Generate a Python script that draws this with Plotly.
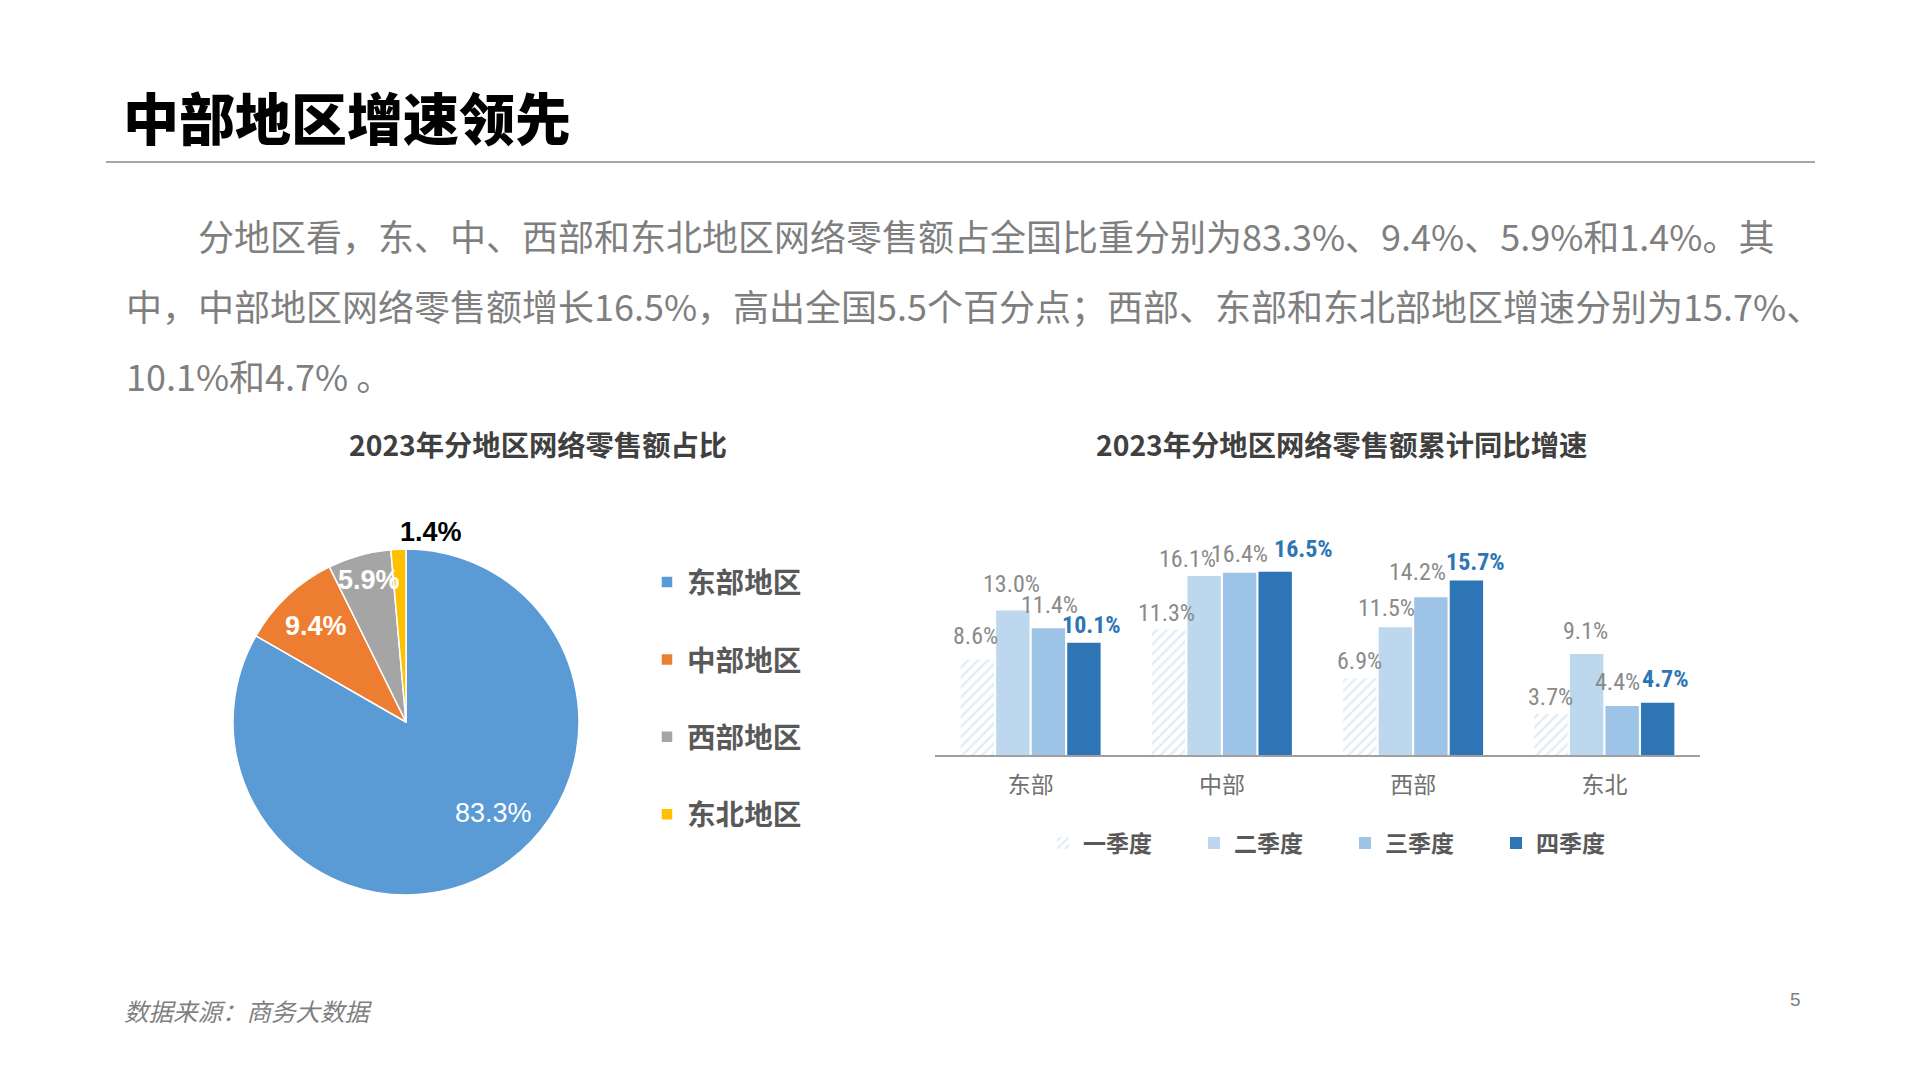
import math
import plotly.graph_objects as go

W, H = 1921, 1080
CJK = "Noto Sans CJK SC"
NARROW = "Liberation Sans Narrow, Roboto Condensed, DejaVu Sans Condensed, Liberation Sans"

# ---- data ----
regions = ["东部地区", "中部地区", "西部地区", "东北地区"]
share = [83.3, 9.4, 5.9, 1.4]

areas = ["东部", "中部", "西部", "东北"]
quarters = ["一季度", "二季度", "三季度", "四季度"]
q1 = [8.6, 11.3, 6.9, 3.7]
q2 = [13.0, 16.1, 11.5, 9.1]
q3 = [11.4, 16.4, 14.2, 4.4]
q4 = [10.1, 16.5, 15.7, 4.7]

page_title = "中部地区增速领先"
para_lines = [
    "　　分地区看，东、中、西部和东北地区网络零售额占全国比重分别为83.3%、9.4%、5.9%和1.4%。其",
    "中，中部地区网络零售额增长16.5%，高出全国5.5个百分点；西部、东部和东北部地区增速分别为15.7%、",
    "10.1%和4.7% 。",
]
pie_title = "2023年分地区网络零售额占比"
bar_title = "2023年分地区网络零售额累计同比增速"
source = "数据来源：商务大数据"
page_no = "5"

# ---- style ----
pie_colors = ["#5B9BD5", "#ED7D31", "#A5A5A5", "#FFC000"]
pie_label_colors = ["white", "white", "white", "black"]
pie_label_bold = [False, True, True, True]
pie_label_radius = [0.73, 0.76, 0.85, 1.11]   # fraction of pie radius
pie_label_turn = [-14, 0, 1, 10]               # degrees off the slice middle
bar_colors = ["#FFFFFF", "#BDD7EE", "#9DC3E6", "#2E75B6"]
# nudges (px) for the bar labels so they sit like the original
label_nudge = [
    [-2, -2, 0, -1],
    [-1, -17, -9, -1],
    [1, 0, -13, -5],
    [8, 28, 9, 8],
]
label_lift = [
    [23, 16, 17, 17],
    [27, 17, 19, 23],
    [23, 19, 25, 24],
    [18, 23, 19, 24],
]


def px(x):
    return x / W


def py(y):
    return 1 - y / H


fig = go.Figure()

# pie
pie_cx, pie_cy, pie_r = 406, 722, 173
fig.add_trace(go.Pie(
    labels=[r + "<br>" for r in regions],
    values=share,
    sort=False,
    direction="clockwise",
    rotation=0,
    marker=dict(colors=pie_colors, line=dict(color="white", width=1.5)),
    textinfo="none",
    domain=dict(x=[px(pie_cx - pie_r), px(pie_cx + pie_r)], y=[py(pie_cy + pie_r), py(pie_cy - pie_r)]),
    legend="legend",
    hoverinfo="skip",
))

annotations = []

# pie value labels, placed from the slice angles
total = sum(share)
cum = 0
for k, v in enumerate(share):
    mid = (cum + v / 2) / total * 360 + pie_label_turn[k]
    cum += v
    rr = pie_label_radius[k] * pie_r
    lx = pie_cx + rr * math.sin(math.radians(mid))
    ly = pie_cy - rr * math.cos(math.radians(mid))
    txt = f"{v:.1f}%"
    annotations.append(dict(
        x=px(lx), y=py(ly), xref="paper", yref="paper",
        text=f"<b>{txt}</b>" if pie_label_bold[k] else txt,
        showarrow=False, xanchor="center", yanchor="middle",
        font=dict(size=27, color=pie_label_colors[k], family="Liberation Sans, Arial"),
    ))

# bars
series = [q1, q2, q3, q4]
for i, (name, vals) in enumerate(zip(quarters, series)):
    if i == 0:
        marker = dict(color="white", line=dict(width=0),
                      pattern=dict(shape="/", fgcolor="#C6D9EC", bgcolor="white", size=7, solidity=0.35))
    else:
        marker = dict(color=bar_colors[i], line=dict(width=0))
    fig.add_trace(go.Bar(x=areas, y=vals, name=name, marker=marker,
                         xaxis="x", yaxis="y", legend="legend2", hoverinfo="skip"))

bargap = 0.257
xdom = [px(935), px(1700)]
slot = (xdom[1] - xdom[0]) * W / len(areas) * (1 - bargap) / len(quarters)

for i, vals in enumerate(series):
    for j, v in enumerate(vals):
        last = i == len(series) - 1
        annotations.append(dict(
            x=areas[j], y=v, xref="x", yref="y",
            text=(f"<b>{v:.1f}%</b>" if last else f"{v:.1f}%"),
            showarrow=False, yanchor="middle", height=18,
            xshift=(i - 1.5) * slot + label_nudge[i][j], yshift=label_lift[i][j],
            font=dict(size=24, family=NARROW, color="#2E75B6" if last else "#8A8A8A"),
        ))

annotations.append(dict(x=px(121), y=py(115), xref="paper", yref="paper", text=page_title,
                        showarrow=False, xanchor="left", yanchor="middle",
                        font=dict(size=56, color="black", family=CJK, weight=900)))
for k, line in enumerate(para_lines):
    annotations.append(dict(x=px(124), y=py(235 + 70 * k), xref="paper", yref="paper", text=line,
                            showarrow=False, xanchor="left", yanchor="middle",
                            font=dict(size=36, color="#7F7F7F", family=CJK)))
annotations.append(dict(x=px(538), y=py(443), xref="paper", yref="paper", text=pie_title,
                        showarrow=False, xanchor="center", yanchor="middle",
                        font=dict(size=28.3, color="#404040", family=CJK, weight="bold")))
annotations.append(dict(x=px(1341), y=py(443), xref="paper", yref="paper", text=bar_title,
                        showarrow=False, xanchor="center", yanchor="middle",
                        font=dict(size=28.3, color="#404040", family=CJK, weight="bold")))
annotations.append(dict(x=px(122), y=py(1010), xref="paper", yref="paper", text=f"<i>{source}</i>",
                        showarrow=False, xanchor="left", yanchor="middle",
                        font=dict(size=24.5, color="#7F7F7F", family=CJK)))
annotations.append(dict(x=px(1795), y=py(999), xref="paper", yref="paper", text=page_no,
                        showarrow=False, xanchor="center", yanchor="middle",
                        font=dict(size=19, color="#7F7F7F", family="Liberation Sans")))

fig.update_layout(
    width=W, height=H,
    margin=dict(l=0, r=0, t=0, b=0),
    paper_bgcolor="white", plot_bgcolor="white",
    barmode="group", bargap=bargap, bargroupgap=0.06,
    xaxis=dict(domain=xdom, showline=True, linecolor="#A0A0A0", linewidth=2,
               showgrid=False, ticks="", ticklabelstandoff=8,
               tickfont=dict(size=23, color="#707070", family=CJK), fixedrange=True),
    yaxis=dict(domain=[py(755), py(535)], range=[0, 19.8], visible=False, fixedrange=True),
    legend=dict(x=px(647), y=py(557), xanchor="left", yanchor="top", valign="top",
                font=dict(size=28.6, color="#595959", family=CJK, weight="bold"),
                bgcolor="rgba(0,0,0,0)", itemclick=False, itemdoubleclick=False),
    legend2=dict(orientation="h", x=px(1043), y=py(843), xanchor="left", yanchor="middle",
                 entrywidth=106, font=dict(size=23, color="#595959", family=CJK, weight="bold"),
                 bgcolor="rgba(0,0,0,0)", itemclick=False, itemdoubleclick=False),
    shapes=[dict(type="line", xref="paper", yref="paper", x0=px(106), x1=px(1815),
                 y0=py(162), y1=py(162), line=dict(color="#A6A6A6", width=2))],
    annotations=annotations,
)

fig.write_html("out.html", config={"displayModeBar": False},
               post_script="document.body.style.margin='0';")
